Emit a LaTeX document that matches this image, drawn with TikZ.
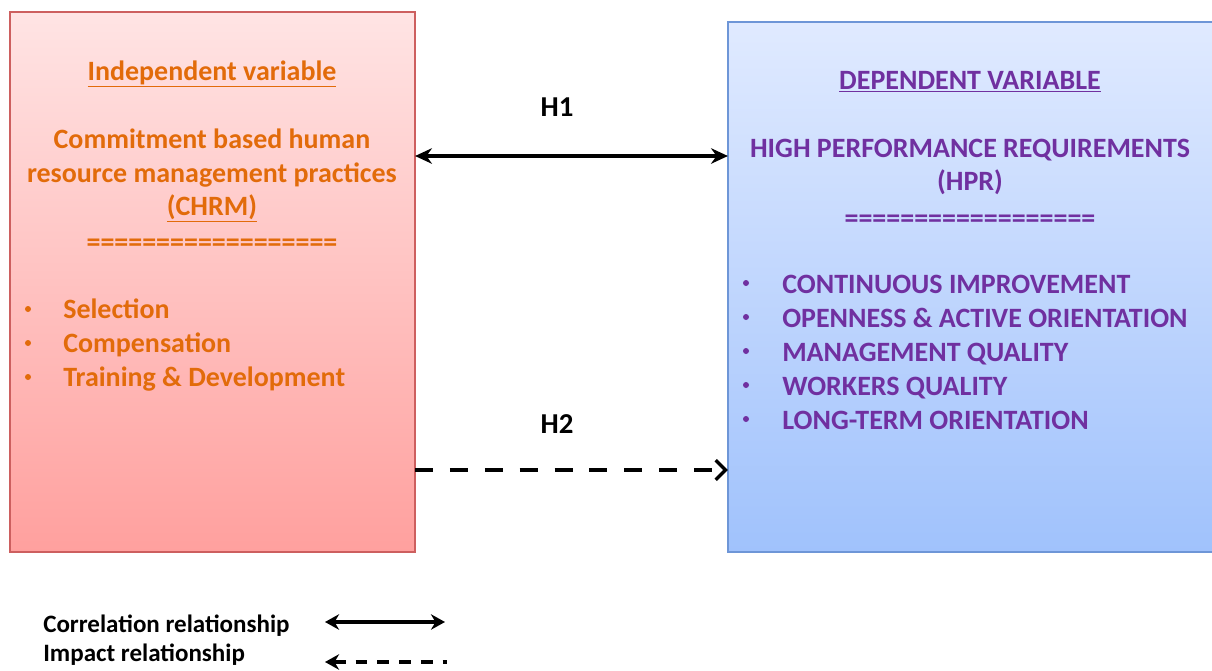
\documentclass[tikz,border=0pt]{standalone}
\usepackage{fontspec}
\setmainfont{Carlito}
\usetikzlibrary{arrows.meta}
\definecolor{indtop}{RGB}{255,228,228}
\definecolor{indbot}{RGB}{255,160,158}
\definecolor{indline}{RGB}{205,95,95}
\definecolor{deptop}{RGB}{224,234,255}
\definecolor{depbot}{RGB}{160,194,252}
\definecolor{depline}{RGB}{110,150,215}
\definecolor{indtext}{RGB}{226,107,10}
\definecolor{deptext}{RGB}{112,48,160}

\begin{document}
\begin{tikzpicture}[x=0.025cm, y=-0.025cm,
  varbox/.style={rectangle, inner sep=0pt, outer sep=0pt, line width=1.1pt},
  indbox/.style={varbox, draw=indline, top color=indtop, bottom color=indbot,
    minimum width=10.125cm, minimum height=13.5cm},
  depbox/.style={varbox, draw=depline, top color=deptop, bottom color=depbot,
    minimum width=12.15cm, minimum height=13.25cm},
  bigtxt/.style={font=\bfseries\fontsize{19.9}{24}\selectfont, inner sep=0pt, anchor=base},
  indtxt/.style={bigtxt, text=indtext},
  deptxt/.style={bigtxt, text=deptext},
  dot/.style={circle, inner sep=0pt, minimum size=0.15cm},
  inddot/.style={dot, fill=indtext},
  depdot/.style={dot, fill=deptext},
  hyp/.style={font=\bfseries\fontsize{20.5}{24}\selectfont, inner sep=0pt, anchor=base},
  legtxt/.style={font=\bfseries\fontsize{17.8}{21}\selectfont, inner sep=0pt, anchor=base west},
  corr/.style={line width=2.3pt, {Stealth[length=12pt,width=11pt]}-{Stealth[length=12pt,width=11pt]}},
  impact/.style={line width=2.3pt, dash pattern=on 12.8pt off 12pt, -{Straight Barb[length=7pt,width=14pt,line width=2.4pt]}},
  legcorr/.style={line width=2.3pt, {Stealth[length=10pt,width=11pt]}-{Stealth[length=10pt,width=11pt]}},
  legimpact/.style={line width=2.4pt, dash pattern=on 8.5pt off 7pt, {Stealth[length=10pt,width=11pt]}-},
]
\useasboundingbox (0,0) rectangle (1212,671);

% ===== Boxes =====
\node[indbox] (chrm) at (212.5,282) {};
\node[depbox] (hpr) at (971,287) {};

% ===== Independent variable =====
\node[indtxt] (indhead) at (212,80)  {\underline{Independent variable}};
\node[indtxt] (indl1)   at (212,148) {Commitment based human};
\node[indtxt] (indl2)   at (212,182) {resource management practices};
\node[indtxt] (indl3)   at (212,215) {\underline{(CHRM)}};
\node[indtxt] (indsep)  at (212,251) {==================};
\foreach \t [count=\i] in {Selection, Compensation, Training \& Development}{
  \node[inddot] (indb\i) at (28,275+34*\i) {};
  \node[indtxt, anchor=base west] (indi\i) at (63,284+34*\i) {\t};
}

% ===== Dependent variable =====
\node[deptxt] (dephead) at (970,89)  {\underline{DEPENDENT VARIABLE}};
\node[deptxt] (depl1)   at (970,157) {HIGH PERFORMANCE REQUIREMENTS};
\node[deptxt] (depl2)   at (970,190) {(HPR)};
\node[deptxt] (depsep)  at (970,227) {==================};
\foreach \t [count=\i] in {CONTINUOUS IMPROVEMENT, OPENNESS \& ACTIVE ORIENTATION,
    MANAGEMENT QUALITY, WORKERS QUALITY, LONG-TERM ORIENTATION}{
  \node[depdot] (depb\i) at (746,249+34*\i) {};
  \node[deptxt, anchor=base west] (depi\i) at (782,259+34*\i) {\t};
}

% ===== Hypotheses =====
\node[hyp] (h1) at (557,116) {H1};
\node[hyp] (h2) at (557,433) {H2};
\draw[corr] (chrm.east |- 0,156) -- (hpr.west |- 0,156);
\draw[impact] (chrm.east |- 0,470) -- (hpr.west |- 0,470);

% ===== Legend =====
\node[legtxt] (lcorr) at (43,632) {Correlation relationship};
\node[legtxt] (limp)  at (43,661) {Impact relationship};
\coordinate (lca) at (325,622);
\coordinate (lcb) at (445,622);
\coordinate (lia) at (325,662);
\coordinate (lib) at (447,662);
\draw[legcorr] (lca) -- (lcb);
\draw[legimpact] (lia) -- (lib);
\end{tikzpicture}
\end{document}
